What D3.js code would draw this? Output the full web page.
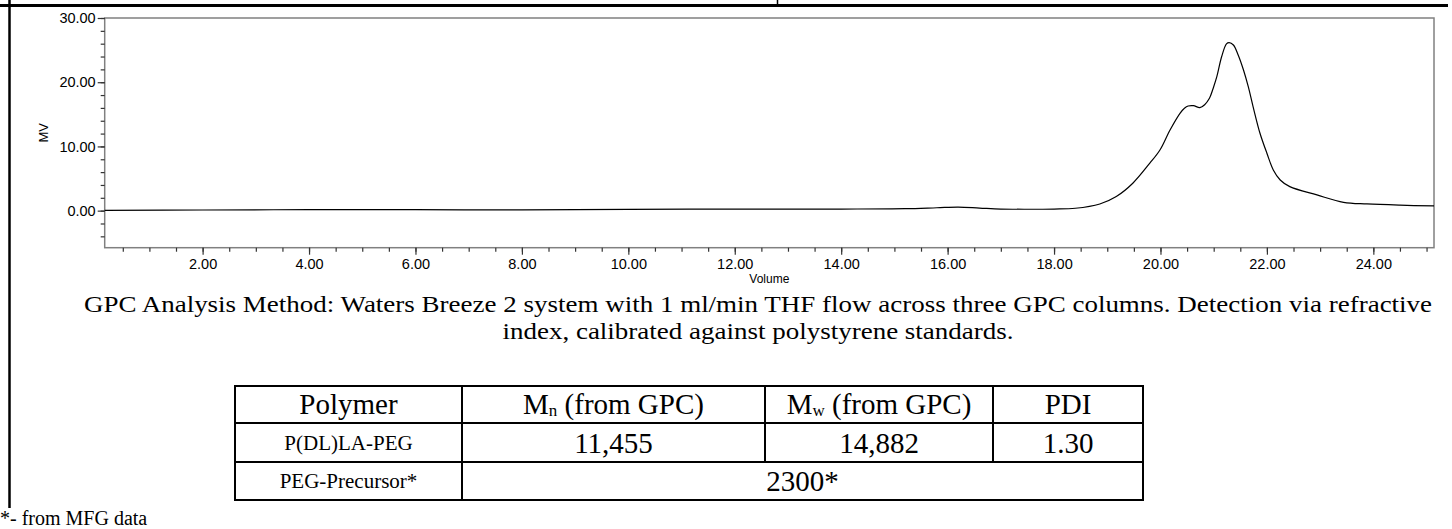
<!DOCTYPE html>
<html><head><meta charset="utf-8">
<script src="https://cdn.jsdelivr.net/npm/d3@7"></script>
<style>
html,body{margin:0;padding:0;background:#fff;}
svg{display:block;}
</style></head>
<body>
<svg id="c" width="1452" height="529"></svg>
<script>
// ---- data ----
const volume = [0.16, 2, 4, 6, 8, 10, 12, 14, 15.2, 15.8, 16.2, 16.6, 17.0, 17.5, 18.0, 18.4, 18.86, 19.17, 19.48, 19.8, 19.99, 20.18, 20.37, 20.45, 20.52, 20.62, 20.74, 20.83, 20.92, 21.0, 21.06, 21.15, 21.24, 21.29, 21.37, 21.46, 21.56, 21.65, 21.74, 21.87, 22.0, 22.12, 22.25, 22.43, 22.94, 23.44, 23.88, 24.5, 25.14];
const mv     = [0.05, 0.1, 0.15, 0.15, 0.12, 0.2, 0.25, 0.25, 0.3, 0.45, 0.55, 0.4, 0.25, 0.22, 0.25, 0.37, 1.04, 2.2, 4.27, 7.4, 9.45, 12.57, 15.2, 15.95, 16.3, 16.35, 16.05, 16.5, 17.5, 19.3, 20.9, 24.0, 25.97, 26.17, 25.8, 24.25, 21.9, 19.3, 16.2, 12.05, 8.94, 6.34, 4.78, 3.74, 2.45, 1.3, 1.04, 0.85, 0.73];
const yMajorTicks = [0, 10, 20, 30];
const xMajorTicks = [2, 4, 6, 8, 10, 12, 14, 16, 18, 20, 22, 24];
const captionLines = ["GPC Analysis Method: Waters Breeze 2 system with 1 ml/min THF flow across three GPC columns. Detection via refractive",
                      "index, calibrated against polystyrene standards."];
const tableHeader = ["Polymer", "Mn", "Mw", "PDI"];
const polymers = ["P(DL)LA-PEG", "PEG-Precursor*"];
const mnValues = ["11,455"];
const mwValues = ["14,882"];
const pdiValues = ["1.30"];
const precursorValue = "2300*";
const footnote = "*- from MFG data";

// ---- layout ----
const svg = d3.select("#c");
const L = 104.7, R = 1434, T = 18, B = 247.7;
const x = d3.scaleLinear().domain([0.16, 25.14]).range([L, R]);
const y = d3.scaleLinear().domain([-5.77, 30]).range([B, T]);
const sans = "'Liberation Sans', Arial, sans-serif";
const serif = "'Liberation Serif', 'Times New Roman', serif";

// page borders
svg.append("line").attr("x1",0).attr("x2",1448).attr("y1",5.5).attr("y2",5.5).attr("stroke","#000").attr("stroke-width",3);
svg.append("line").attr("x1",777.5).attr("x2",777.5).attr("y1",0).attr("y2",5).attr("stroke","#000").attr("stroke-width",1.5);
svg.append("line").attr("x1",9.5).attr("x2",9.5).attr("y1",0).attr("y2",508).attr("stroke","#000").attr("stroke-width",2.5);

// plot frame
svg.append("rect").attr("x",L).attr("y",T).attr("width",R-L).attr("height",B-T)
  .attr("fill","none").attr("stroke","#808080").attr("stroke-width",1.5);

// axes
const yMinor = d3.range(-4, 30.01, 2);
const xMinor = d3.range(0.5, 25.01, 0.5);
const gy = svg.append("g").attr("transform",`translate(${L},0)`);
gy.call(d3.axisLeft(y).tickValues(yMinor).tickSize(4).tickFormat(""));
gy.append("g").call(d3.axisLeft(y).tickValues(yMajorTicks).tickSize(7).tickPadding(2).tickFormat(d3.format(".2f")));
const gx = svg.append("g").attr("transform",`translate(0,${B})`);
gx.call(d3.axisBottom(x).tickValues(xMinor).tickSize(4).tickFormat(""));
gx.append("g").call(d3.axisBottom(x).tickValues(xMajorTicks).tickSize(7).tickPadding(4).tickFormat(d3.format(".2f")));
svg.selectAll(".domain").remove();
svg.selectAll(".tick line").attr("stroke","#333").attr("stroke-width",1.2);
svg.selectAll(".tick text").attr("font-family",sans).attr("font-size",14.5).attr("fill","#000");

svg.append("text").attr("transform",`translate(48,${(T+B)/2}) rotate(-90)`).attr("text-anchor","middle")
  .attr("font-family",sans).attr("font-size",13).text("MV");
svg.append("text").attr("x",(L+R)/2).attr("y",283).attr("text-anchor","middle")
  .attr("font-family",sans).attr("font-size",12).text("Volume");

// curve
const pts = volume.map((v,i)=>[v, mv[i]]);
svg.append("path").datum(pts)
  .attr("d", d3.line().x(d=>x(d[0])).y(d=>y(d[1])).curve(d3.curveCatmullRom.alpha(0.5)))
  .attr("fill","none").attr("stroke","#000").attr("stroke-width",1.2);

// caption (slightly widened serif text, as in the reference)
captionLines.forEach((t,i)=>{
  svg.append("text").attr("transform",`translate(758,${312 + i*27}) scale(1.125,1)`).attr("text-anchor","middle")
    .attr("font-family",serif).attr("font-size",24).text(t);
});

// table
const cols = [235, 462, 765, 993, 1143];
const rows = [386, 423, 462, 500];
const tg = svg.append("g").attr("stroke","#000").attr("stroke-width",2);
tg.append("rect").attr("x",cols[0]).attr("y",rows[0]).attr("width",cols[4]-cols[0]).attr("height",rows[3]-rows[0]).attr("fill","none");
[rows[1], rows[2]].forEach(r=>tg.append("line").attr("x1",cols[0]).attr("x2",cols[4]).attr("y1",r).attr("y2",r));
[1,2,3].forEach(c=>tg.append("line").attr("x1",cols[c]).attr("x2",cols[c]).attr("y1",rows[0]).attr("y2",c===1?rows[3]:rows[2]));
const cx = i => (cols[i]+cols[i+1])/2;
function txt(xp, yp, s, size){ return svg.append("text").attr("x",xp).attr("y",yp).attr("text-anchor","middle").attr("font-family",serif).attr("font-size",size).text(s); }
txt(cx(0), 414, tableHeader[0], 29);
[[1, tableHeader[1]], [2, tableHeader[2]]].forEach(([ci, lab])=>{
  const t = txt(cx(ci), 414, "", 29);
  t.append("tspan").text(lab[0]);
  t.append("tspan").attr("font-size",17).attr("dy",2).text(lab[1]);
  t.append("tspan").attr("dy",-2).text(" (from GPC)");
});
txt(cx(3), 414, tableHeader[3], 29);
txt(cx(0), 450, polymers[0], 21);
txt(cx(1), 453, mnValues[0], 29);
txt(cx(2), 453, mwValues[0], 29);
txt(cx(3), 453, pdiValues[0], 29);
txt(cx(0), 488, polymers[1], 21);
txt((cols[1]+cols[4])/2, 491, precursorValue, 29);
svg.append("text").attr("x",0).attr("y",525).attr("font-family",serif).attr("font-size",20).text(footnote);
</script>
</body></html>
